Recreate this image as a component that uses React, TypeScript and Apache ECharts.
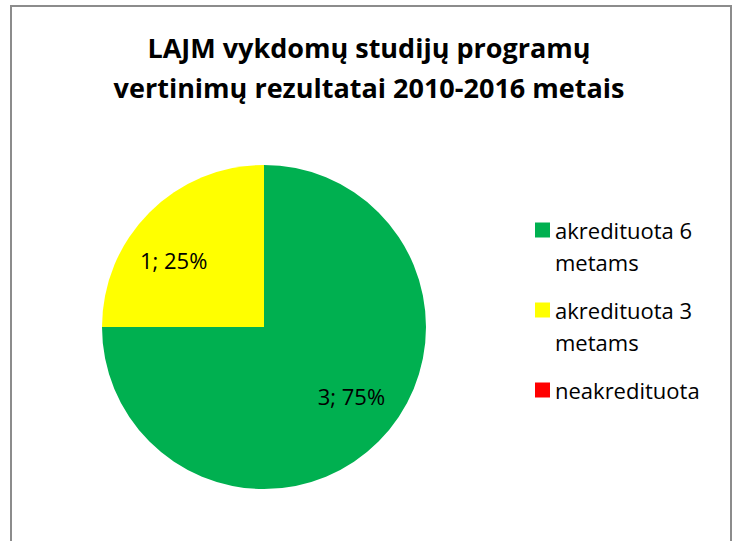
import React, { useEffect, useRef } from "react";
import * as echarts from "echarts";

const titleLines = ["LAJM vykdomų studijų programų", "vertinimų rezultatai 2010-2016 metais"];
const categories = ["akredituota 6 metams", "akredituota 3 metams", "neakredituota"];
const values = [3, 1, 0];
const colors = ["#00B050", "#FFFF00", "#FF0000"];

const FONT = "'Open Sans', sans-serif";

export default function App() {
  const ref = useRef<HTMLDivElement>(null);
  useEffect(() => {
    if (!ref.current) return;
    const chart = echarts.init(ref.current, null, { renderer: "svg" });
    const labelOffsets = [[28, 10], [-31, -8], [0, 0]];
    chart.setOption({
      animation: false,
      backgroundColor: "#ffffff",
      title: {
        text: titleLines.join("\n"),
        left: "center",
        top: 22,
        textStyle: {
          fontFamily: FONT,
          fontWeight: "bold",
          fontSize: 27,
          lineHeight: 40,
          color: "#000000",
        },
      },
      graphic: [
        {
          type: "rect",
          shape: { x: 11, y: 6, width: 720, height: 600 },
          style: { fill: "none", stroke: "#8c8c8c", lineWidth: 2 },
          silent: true,
        },
      ],
      legend: {
        orient: "vertical",
        left: 530,
        top: 177,
        itemWidth: 15,
        itemHeight: 15,
        itemGap: -16,
        selectedMode: false,
        icon: "rect",
        formatter: (name: string) => {
          const parts = name.split(" metams");
          return parts.length > 1 ? " \n" + parts[0] + "\nmetams" : " \n" + name + "\n ";
        },
        textStyle: {
          fontFamily: FONT,
          fontSize: 22,
          lineHeight: 32,
          color: "#000000",
        },
        data: categories,
      },
      series: [
        {
          type: "pie",
          center: [264, 327],
          radius: 162,
          startAngle: 90,
          clockwise: true,
          avoidLabelOverlap: false,
          emphasis: { disabled: true },
          label: {
            show: true,
            position: "inside",
            formatter: "{c}; {d}%",
            fontFamily: FONT,
            fontSize: 22,
            color: "#000000",
          },
          labelLine: { show: false },
          data: categories.map((name, i) => ({
            name,
            value: values[i],
            itemStyle: { color: colors[i] },
            label: { show: values[i] > 0, offset: labelOffsets[i] },
          })),
        },
      ],
    });
    return () => chart.dispose();
  }, []);
  return (
    <div
      ref={ref}
      style={{ position: "fixed", left: 0, top: 0, width: 738, height: 541 }}
    />
  );
}
